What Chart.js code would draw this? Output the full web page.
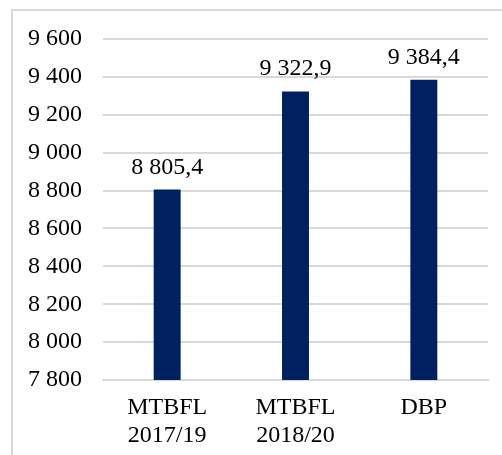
<!DOCTYPE html>
<html>
<head>
    <title>Bar Chart</title>
    <script src="https://cdn.jsdelivr.net/npm/chart.js@4.4.0/dist/chart.umd.min.js"></script>
    <style>
        body { margin: 0; background: #fff; }
        #wrap { width: 502px; height: 455px; position: relative; }
    </style>
</head>
<body>
    <div id="wrap">
        <canvas id="barChart"></canvas>
    </div>

    <script>
        const categories = [['MTBFL', '2017/19'], ['MTBFL', '2018/20'], 'DBP'];
        const values = [8805.4, 9322.9, 9384.4];
        const yTicks = [7800, 8000, 8200, 8400, 8600, 8800, 9000, 9200, 9400, 9600];

        const FONT = 'Liberation Serif, "Times New Roman", serif';
        const GRID = '#d9d9d9';

        // thousands with a space, decimals with a comma
        function fmt(v, dec) {
            const parts = v.toFixed(dec).split('.');
            const int = parts[0].replace(/\B(?=(\d{3})+(?!\d))/g, ' ');
            return parts[1] ? int + ',' + parts[1] : int;
        }

        // frame around the chart (only top and left are visible)
        const framePlugin = {
            id: 'frame',
            beforeDraw(chart) {
                const c = chart.ctx;
                c.save();
                c.strokeStyle = GRID;
                c.lineWidth = 2;
                c.beginPath();
                c.moveTo(12, chart.height);
                c.lineTo(12, 10);
                c.lineTo(chart.width, 10);
                c.stroke();
                c.restore();
            }
        };

        // value labels above the bars
        const labelPlugin = {
            id: 'valueLabels',
            afterDatasetsDraw(chart) {
                const c = chart.ctx;
                const meta = chart.getDatasetMeta(0);
                c.save();
                c.font = '24px ' + FONT;
                c.fillStyle = '#000';
                c.textAlign = 'center';
                c.textBaseline = 'alphabetic';
                meta.data.forEach((bar, i) => {
                    c.fillText(fmt(values[i], 1), bar.x, bar.y - 16);
                });
                c.restore();
            }
        };

        const ctx = document.getElementById('barChart').getContext('2d');
        const myBarChart = new Chart(ctx, {
            type: 'bar',
            data: {
                labels: categories,
                datasets: [{
                    data: values,
                    backgroundColor: '#002060',
                    barPercentage: 0.21,
                    categoryPercentage: 1.0,
                }],
            },
            options: {
                responsive: true,
                maintainAspectRatio: false,
                animation: false,
                layout: { padding: { left: 0, right: 14, top: 39, bottom: 0 } },
                plugins: {
                    legend: { display: false },
                    tooltip: { enabled: false },
                },
                scales: {
                    x: {
                        grid: { display: false, drawTicks: false },
                        border: { display: true, color: GRID, width: 2 },
                        ticks: {
                            color: '#000',
                            font: { family: FONT, size: 24, lineHeight: 1.17 },
                            padding: 14,
                            maxRotation: 0,
                        },
                        afterFit(scale) { scale.height = 75; },
                    },
                    y: {
                        min: 7800,
                        max: 9600,
                        afterBuildTicks(scale) {
                            scale.ticks = yTicks.map(v => ({ value: v }));
                        },
                        grid: { color: GRID, lineWidth: 2, drawTicks: false },
                        border: { display: false },
                        ticks: {
                            color: '#000',
                            font: { family: FONT, size: 24 },
                            padding: 21,
                            callback: v => fmt(v, 0),
                        },
                        afterFit(scale) { scale.width = 103; },
                    },
                },
            },
            plugins: [framePlugin, labelPlugin],
        });
    </script>
</body>
</html>
